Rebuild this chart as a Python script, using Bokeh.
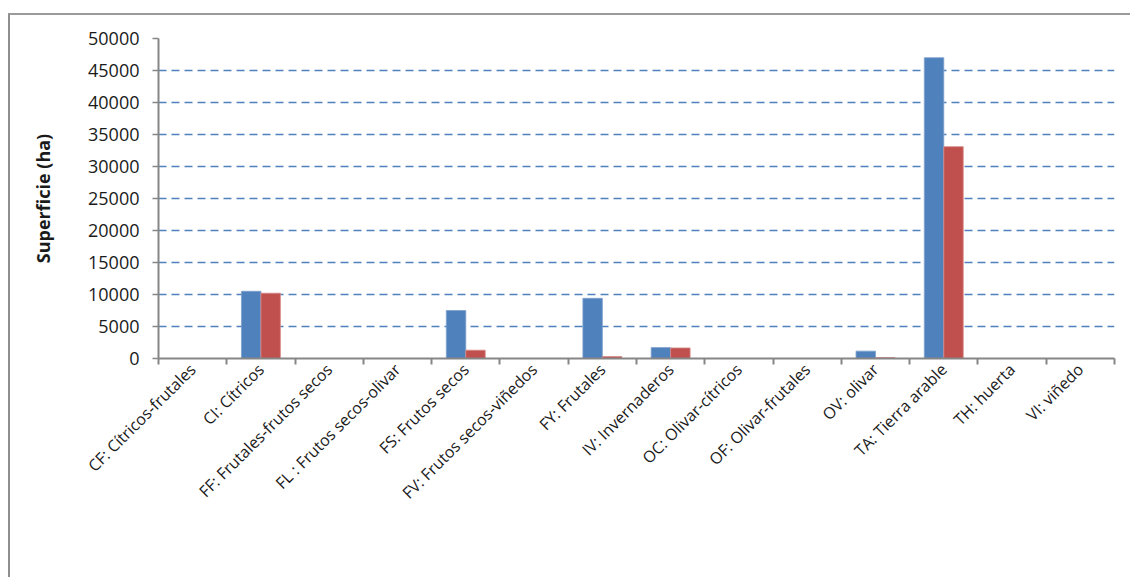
from math import pi
from bokeh.plotting import figure
from bokeh.models import ColumnDataSource, Range1d, FixedTicker, Legend, LegendItem
from bokeh.embed import file_html
from bokeh.resources import INLINE

categories = ["CF: Cítricos-frutales", "CI: Cítricos", "FF: Frutales-frutos secos",
              "FL : Frutos secos-olivar", "FS: Frutos secos", "FV: Frutos secos-viñedos",
              "FY: Frutales", "IV: Invernaderos", "OC: Olivar-cítricos",
              "OF: Olivar-frutales", "OV: olivar", "TA: Tierra arable",
              "TH: huerta", "VI: viñedo"]
superficie_total = [0, 10500, 0, 0, 7500, 0, 9400, 1700, 0, 0, 1150, 47000, 0, 0]
superficie_regadio = [0, 10200, 0, 0, 1300, 0, 300, 1650, 0, 0, 150, 33100, 0, 0]
y_ticks = [0, 5000, 10000, 15000, 20000, 25000, 30000, 35000, 40000, 45000, 50000]
series_names = ["Superficie Total", "Superficie Regadio"]

FONT = "Open Sans"
TXT = "#1a1a1a"
GRAY = "#868686"

n = len(categories)
centers = [i + 0.5 for i in range(n)]
BW = 0.285
src = ColumnDataSource(dict(
    x_total=[c - BW / 2 for c in centers],
    x_reg=[c + BW / 2 for c in centers],
    total=superficie_total, regadio=superficie_regadio))

p = figure(frame_width=956, frame_height=320,
           x_range=Range1d(0, n), y_range=Range1d(0, 50000),
           output_backend="svg", toolbar_location=None,
           min_border_left=148, min_border_right=16, min_border_top=23, min_border_bottom=150,
           margin=(13, 0, 0, 8),
           styles={"border-top": "2px solid #9a9a9a", "border-left": "2px solid #8f8f8f"})
p.outline_line_color = None
p.background_fill_color = "white"

r1 = p.vbar(x="x_total", top="total", width=BW, source=src,
            fill_color="#4F81BD", line_color="#7d9fcc", line_width=0.8)
r2 = p.vbar(x="x_reg", top="regadio", width=BW, source=src,
            fill_color="#C0504D", line_color="#d88a88", line_width=0.8)
# invisible spacer renderer, only used to pad the legend box to the right
r_pad = p.vbar(x=[], top=[], width=BW, fill_alpha=0, line_alpha=0)

xa = p.xaxis[0]
xa.ticker = FixedTicker(ticks=centers, minor_ticks=list(range(n + 1)))
xa.major_label_overrides = {c: name for c, name in zip(centers, categories)}
xa.major_tick_line_color = None
xa.major_tick_in = 0
xa.major_tick_out = 0
xa.minor_tick_line_color = GRAY
xa.minor_tick_line_width = 2
xa.minor_tick_in = 0
xa.minor_tick_out = 6
xa.axis_line_color = GRAY
xa.axis_line_width = 2
xa.major_label_orientation = pi / 4
xa.major_label_standoff = 2
xa.major_label_text_font = FONT
xa.major_label_text_font_size = "16px"
xa.major_label_text_color = TXT

ya = p.yaxis[0]
ya.ticker = FixedTicker(ticks=y_ticks, minor_ticks=[])
ya.axis_line_color = GRAY
ya.axis_line_width = 2
ya.major_tick_line_color = GRAY
ya.major_tick_line_width = 1.5
ya.major_tick_in = 0
ya.major_tick_out = 6
ya.minor_tick_line_color = None
ya.major_label_standoff = 13
ya.major_label_text_font = FONT
ya.major_label_text_font_size = "18px"
ya.major_label_text_color = TXT
ya.axis_label = "Superficie (ha)"
ya.axis_label_text_font = FONT
ya.axis_label_text_font_size = "18px"
ya.axis_label_text_font_style = "bold"
ya.axis_label_text_color = TXT
ya.axis_label_standoff = 30

p.xgrid.grid_line_color = None
p.ygrid.grid_line_color = "#4F81BD"
p.ygrid.grid_line_width = 1.5
p.ygrid.grid_line_dash = "8 5"

lg = Legend(items=[LegendItem(label=series_names[0], renderers=[r1]),
                   LegendItem(label=series_names[1], renderers=[r2]),
                   LegendItem(label=" ", renderers=[r_pad])],
            location="center", orientation="horizontal",
            border_line_color=None, background_fill_alpha=0,
            padding=0, margin=0, spacing=39, label_width=57,
            glyph_width=12, glyph_height=12, label_standoff=5,
            label_text_font=FONT, label_text_font_size="17.5px",
            label_text_color=TXT)
p.add_layout(lg, "below")

open("out.html", "w").write(file_html(p, INLINE))
